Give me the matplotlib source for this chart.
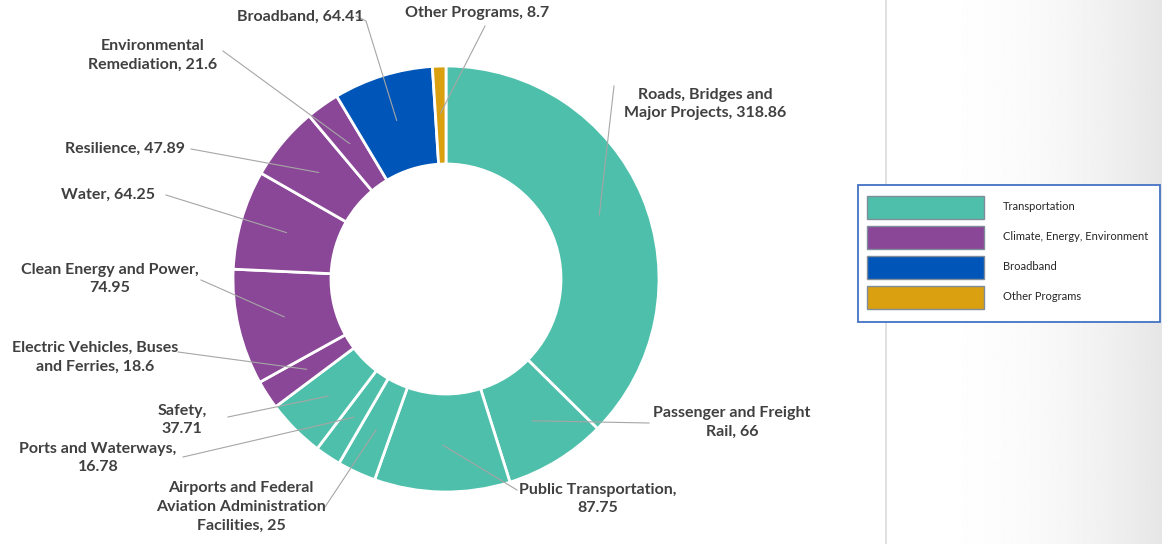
import numpy as np
import matplotlib
matplotlib.use("Agg")
import matplotlib.pyplot as plt
from matplotlib.patches import Rectangle

# Infrastructure spending by program (billions), clockwise from 12 o'clock
programs = ["Roads, Bridges and\nMajor Projects", "Passenger and Freight\nRail",
            "Public Transportation,\n", "Airports and Federal\nAviation Administration\nFacilities",
            "Ports and Waterways,\n", "Safety,\n", "Electric Vehicles, Buses\nand Ferries",
            "Clean Energy and Power,\n", "Water", "Resilience", "Environmental\nRemediation",
            "Broadband", "Other Programs"]
amounts = [318.86, 66, 87.75, 25, 16.78, 37.71, 18.6, 74.95, 64.25, 47.89, 21.6, 64.41, 8.7]
groups = ["Transportation"] * 6 + ["Climate, Energy, Environment"] * 5 + ["Broadband", "Other Programs"]

group_names = ["Transportation", "Climate, Energy, Environment", "Broadband", "Other Programs"]
group_colors = ["#4EBFAA", "#8B4797", "#0055B8", "#DAA00F"]

W, H = 1162, 544
CX, CY, R = 446, 279, 213   # donut centre / radius in pixels

# label centre and leader start, in pixels
label_xy = [(705, 104), (732, 422), (598, 499), (241, 507), (98, 458), (182, 420), (95, 357),
            (110, 279), (108, 195), (125, 149), (153, 55), (300, 17), (477, 13)]
leader_from = [(614, 86), (649, 423), (517, 490), (325, 507), (183, 457), (228, 417), (178, 352),
               (201, 280), (166, 195), (191, 149), (223, 51), (356, 16), (485, 26)]

def to_data(p):
    return ((p[0] - CX) / R, (CY - p[1]) / R)

fig = plt.figure(figsize=(W / 100, H / 100), dpi=100)

# background: white page, thin divider, grey fade on the right
bg = fig.add_axes([0, 0, 1, 1])
bg.set_xlim(0, W)
bg.set_ylim(H, 0)
bg.axis("off")
ramp = np.linspace(0, 1, 300) ** 2.5
grad = 1 - 0.10 * ramp
bg.imshow(np.tile(grad, (10, 1)), cmap="gray", vmin=0, vmax=1, aspect="auto",
          extent=[886, W, H, 0], zorder=0)
bg.plot([886, 886], [0, H], color="#dcdcdc", lw=1.2, zorder=1)

# legend
bg.add_patch(Rectangle((858, 185), 302, 137, facecolor="white", edgecolor="#4472C4", lw=1.3, zorder=2))
for i, (g, c) in enumerate(zip(group_names, group_colors)):
    y = 196 + i * 30
    bg.add_patch(Rectangle((867, y), 117, 23, facecolor=c, edgecolor="#7f8c99", lw=1, zorder=3))
    bg.text(1003, y + 10, g, fontsize=8, family="Lato", color="#262626", va="center", zorder=3)

# donut
ax = fig.add_axes([(CX - R) / W, (H - CY - R) / H, 2 * R / W, 2 * R / H])
colors = [group_colors[group_names.index(g)] for g in groups]
wedges, _ = ax.pie(amounts, colors=colors, startangle=90, counterclock=False, radius=1,
                   wedgeprops=dict(width=0.46, edgecolor="white", linewidth=2))
ax.set_xlim(-1, 1)
ax.set_ylim(-1, 1)
ax.set_aspect("equal")
ax.axis("off")

for w, name, val, lp, lf in zip(wedges, programs, amounts, label_xy, leader_from):
    mid = np.deg2rad((w.theta1 + w.theta2) / 2)
    end = (0.78 * np.cos(mid), 0.78 * np.sin(mid))
    start = to_data(lf)
    if name == "Broadband":
        elbow = to_data((366, 21))
        xs, ys = [start[0], elbow[0], end[0]], [start[1], elbow[1], end[1]]
    else:
        xs, ys = [start[0], end[0]], [start[1], end[1]]
    ax.plot(xs, ys, color="#a6a6a6", lw=0.8, clip_on=False)
    if name.endswith("\n"):
        txt = f"{name}{val:g}"
    else:
        txt = f"{name}, {val:g}"
    tx, ty = to_data(lp)
    ax.text(tx, ty, txt, ha="center", va="center", fontsize=11.5, family="Lato",
            fontweight="bold", color="#404040", linespacing=1.45, clip_on=False)

fig.savefig("out.png", dpi=100)
